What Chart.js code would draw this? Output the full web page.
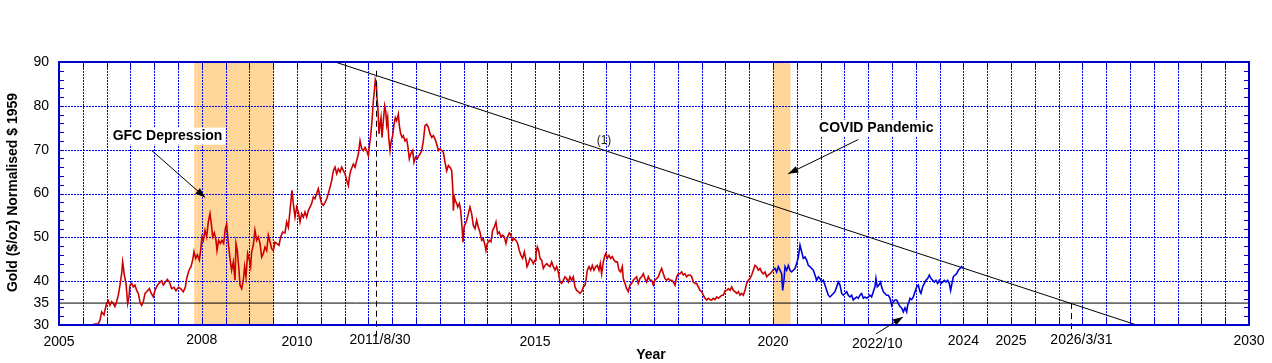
<!DOCTYPE html>
<html><head><meta charset="utf-8">
<script src="https://cdn.jsdelivr.net/npm/chart.js@4.4.1/dist/chart.umd.min.js"></script>
<style>html,body{margin:0;padding:0;background:#fff;}#wrap{width:1272px;height:363px;}</style>
</head><body><div id="wrap"><canvas id="c" width="1272" height="363"></canvas></div>
<script>
// ---- data ----
const redYears = [2005.686,2005.756,2005.826,2005.861,2005.896,2005.945,2005.966,2006.001,2006.036,2006.071,2006.106,2006.141,2006.176,2006.211,2006.246,2006.281,2006.316,2006.337,2006.351,2006.372,2006.407,2006.442,2006.470,2006.491,2006.526,2006.561,2006.596,2006.631,2006.666,2006.701,2006.736,2006.771,2006.807,2006.842,2006.898,2006.933,2006.982,2007.017,2007.066,2007.122,2007.157,2007.192,2007.248,2007.276,2007.318,2007.367,2007.416,2007.458,2007.507,2007.556,2007.612,2007.654,2007.682,2007.731,2007.773,2007.808,2007.836,2007.871,2007.906,2007.948,2007.976,2008.004,2008.032,2008.067,2008.102,2008.137,2008.172,2008.200,2008.228,2008.263,2008.298,2008.319,2008.354,2008.389,2008.424,2008.459,2008.494,2008.522,2008.550,2008.592,2008.627,2008.662,2008.697,2008.718,2008.746,2008.781,2008.802,2008.837,2008.872,2008.900,2008.928,2008.963,2008.991,2009.026,2009.047,2009.082,2009.117,2009.152,2009.188,2009.223,2009.258,2009.293,2009.328,2009.363,2009.398,2009.433,2009.468,2009.503,2009.538,2009.573,2009.622,
2009.657,2009.699,2009.748,2009.783,2009.818,2009.853,2009.895,2009.923,2009.958,2009.993,2010.028,2010.063,2010.098,2010.133,2010.168,2010.203,2010.238,2010.273,2010.308,2010.343,2010.378,2010.413,2010.448,2010.483,2010.518,2010.553,2010.589,2010.624,2010.659,2010.694,2010.729,2010.764,2010.799,2010.834,2010.869,2010.904,2010.939,2010.974,2011.009,2011.044,2011.079,2011.100,2011.128,2011.156,2011.184,2011.219,2011.254,2011.289,2011.324,2011.359,2011.394,2011.429,2011.464,2011.499,2011.520,2011.548,2011.576,2011.604,2011.625,2011.646,2011.667,2011.681,2011.702,2011.723,2011.744,2011.765,2011.786,2011.814,2011.842,2011.863,2011.884,2011.905,2011.926,2011.954,2011.975,2012.010,2012.038,2012.066,2012.094,2012.129,2012.150,2012.178,2012.206,2012.234,2012.269,2012.304,2012.332,2012.360,2012.388,2012.430,2012.458,2012.493,2012.528,2012.556,2012.584,2012.619,2012.654,2012.689,2012.724,2012.760,2012.795,2012.830,2012.865,2012.900,2012.935,2012.970,2013.005,2013.040,2013.075,2013.110,2013.145,2013.180,2013.215,2013.250,2013.271,2013.285,2013.306,2013.327,2013.355,2013.376,2013.411,2013.439,2013.467,2013.488,2013.509,2013.537,2013.565,2013.600,
2013.634,2013.669,2013.704,2013.739,2013.774,2013.809,2013.844,2013.879,2013.914,2013.949,2013.970,2013.998,2014.040,2014.075,2014.110,2014.145,2014.180,2014.215,2014.250,2014.285,2014.320,2014.355,2014.390,2014.425,2014.460,2014.495,2014.530,2014.565,2014.600,2014.635,2014.670,2014.706,2014.741,2014.776,2014.811,2014.832,2014.860,2014.895,2014.930,2014.965,2015.000,2015.021,2015.049,2015.077,2015.105,2015.140,2015.175,2015.210,2015.245,2015.280,2015.315,2015.350,2015.385,2015.420,2015.455,2015.490,2015.525,2015.560,2015.595,2015.630,2015.665,2015.700,2015.735,2015.770,2015.805,2015.840,2015.875,2015.910,2015.945,2015.980,2016.015,2016.050,2016.071,2016.099,2016.134,2016.169,2016.204,2016.239,2016.274,2016.309,2016.344,2016.372,2016.400,2016.435,2016.470,2016.491,2016.519,2016.554,2016.589,2016.624,2016.659,2016.694,2016.729,2016.764,2016.799,2016.834,2016.855,2016.890,2016.925,2016.960,2016.995,2017.030,2017.065,2017.100,2017.135,2017.170,2017.205,2017.240,2017.275,2017.310,2017.345,2017.380,2017.415,2017.450,2017.486,2017.521,2017.556,2017.591,
2017.626,2017.661,2017.696,2017.731,2017.766,2017.801,2017.836,2017.871,2017.906,2017.941,2017.976,2018.011,2018.046,2018.081,2018.116,2018.151,2018.186,2018.221,2018.256,2018.291,2018.326,2018.361,2018.396,2018.431,2018.466,2018.501,2018.536,2018.571,2018.606,2018.641,2018.676,2018.711,2018.746,2018.781,2018.817,2018.852,2018.887,2018.922,2018.957,2018.992,2019.027,2019.062,2019.097,2019.132,2019.167,2019.202,2019.237,2019.272,2019.307,2019.342,2019.377,2019.412,2019.447,2019.482,2019.517,2019.552,2019.587,2019.622,2019.657,2019.692,2019.727,2019.762,2019.797,2019.832,2019.867,2019.902,2019.937,2019.972,2019.993];
const redValues = [30.0,30.2,30.3,31.1,33.0,32.3,33.4,34.9,35.5,34.5,35.3,34.9,34.2,35.3,36.8,39.1,41.7,44.4,43.3,41.4,39.5,34.9,36.4,39.1,39.5,38.7,39.1,37.9,37.2,35.3,34.5,35.3,37.2,37.6,38.3,37.3,36.4,37.9,39.1,39.8,40.1,39.1,40.0,40.4,39.8,38.3,38.6,37.8,38.6,38.3,37.6,38.6,40.6,42.5,43.3,44.8,46.7,45.2,46.0,44.8,47.0,50.1,49.3,51.6,50.1,53.5,55.4,53.1,50.1,51.0,49.3,47.0,49.3,48.6,49.3,48.6,52.0,53.1,49.3,45.2,42.5,44.4,40.2,48.6,47.0,42.5,39.1,38.3,40.2,43.3,41.0,46.3,45.2,43.3,46.7,48.2,51.6,49.3,50.1,48.6,45.5,46.3,47.8,47.0,50.5,49.0,47.4,47.0,48.9,48.6,48.2,
50.1,51.2,51.0,53.5,52.3,56.1,60.7,57.7,54.6,56.9,55.8,53.5,55.4,54.6,55.8,54.6,56.1,56.9,57.7,59.2,58.8,60.0,61.1,59.2,57.7,57.3,58.0,58.8,60.0,61.4,63.0,65.2,66.0,64.5,65.6,64.9,66.0,65.2,64.5,63.0,61.8,63.7,65.2,66.0,66.7,66.0,67.5,69.0,72.0,70.2,69.8,70.5,69.8,68.6,70.9,73.2,76.6,81.1,83.4,86.0,85.3,81.9,78.9,73.6,75.8,77.3,72.8,76.6,80.0,78.9,75.8,77.3,72.8,69.8,71.7,73.2,75.8,77.3,76.6,78.1,75.5,73.6,72.8,73.2,72.0,72.4,70.5,67.9,69.0,69.8,67.1,68.3,67.9,68.6,69.0,69.8,72.0,75.5,75.8,75.1,73.6,72.8,73.2,72.4,71.3,69.8,70.2,69.8,69.4,67.1,65.2,66.4,66.0,65.2,61.4,56.1,59.2,58.4,57.7,56.9,57.7,56.1,52.3,48.9,52.3,53.1,53.9,55.4,
56.9,55.4,52.7,52.0,53.9,52.3,51.2,49.3,49.7,48.2,47.0,48.6,49.3,49.0,51.6,52.3,53.5,50.8,51.2,50.1,50.5,50.1,48.6,50.1,51.0,50.5,49.3,49.7,49.3,48.6,47.0,45.9,45.2,46.7,44.8,43.3,44.0,45.2,44.8,44.0,44.8,46.3,47.8,47.0,45.2,44.8,42.9,43.6,44.0,43.6,43.3,44.4,43.3,42.5,43.3,42.1,39.8,39.5,40.2,41.0,40.6,39.8,41.0,40.2,41.0,38.7,37.9,37.6,37.2,37.6,38.7,39.1,40.2,42.5,43.3,42.5,43.6,42.5,43.3,43.6,42.5,44.0,41.7,44.4,45.9,46.4,45.2,45.9,45.2,45.6,44.8,44.4,44.4,42.5,42.1,43.3,40.6,39.5,38.3,37.6,39.1,39.5,40.2,40.6,41.0,39.5,40.6,41.0,41.7,40.6,39.8,41.0,40.2,40.2,39.1,40.2,40.6,41.0,
42.1,42.9,41.7,40.6,40.2,40.6,40.2,40.2,39.8,39.1,41.0,41.7,41.7,42.1,41.4,41.7,41.0,41.4,41.4,41.0,39.8,39.5,39.5,38.7,37.9,37.6,36.8,36.1,35.7,36.1,35.8,35.7,36.1,35.8,36.4,36.1,36.4,36.8,36.8,37.8,37.9,38.3,37.9,38.7,37.9,37.6,37.2,37.6,36.8,37.2,36.8,37.9,39.5,40.2,40.6,41.4,42.5,43.6,43.3,42.5,42.9,42.1,41.7,42.1,41.0,41.4,41.7,42.1,42.5];
const blueYears = [2019.993,2020.042,2020.077,2020.112,2020.147,2020.182,2020.203,2020.231,2020.252,2020.287,2020.322,2020.357,2020.392,2020.427,2020.462,2020.497,2020.532,2020.567,2020.602,2020.637,2020.672,2020.707,2020.742,2020.777,2020.812,2020.847,2020.882,2020.917,2020.952,2020.987,2021.022,2021.057,2021.092,2021.127,2021.162,2021.197,2021.232,2021.267,2021.302,2021.337,2021.372,2021.408,2021.443,2021.478,2021.512,2021.547,2021.582,2021.617,2021.652,2021.687,2021.722,2021.757,2021.792,2021.827,2021.862,2021.897,2021.932,2021.967,2022.002,2022.037,2022.072,2022.107,2022.142,2022.163,2022.191,2022.226,2022.261,2022.282,2022.317,2022.352,2022.387,2022.423,2022.458,2022.493,2022.528,2022.563,2022.598,2022.633,2022.668,2022.703,2022.738,2022.773,2022.808,2022.829,2022.857,2022.878,2022.913,2022.948,2022.983,2023.018,2023.053,2023.088,2023.109,2023.144,2023.179,2023.214,2023.249,2023.284,2023.319,2023.354,2023.389,2023.424,2023.459,2023.494,2023.529,2023.564,2023.599,2023.634,2023.669,2023.704,2023.732,2023.760,2023.788,2023.823,2023.858,2023.893,2023.928,2023.963,2023.984];
const blueValues = [42.5,42.9,42.1,43.3,42.5,41.7,37.9,40.2,43.3,42.5,43.6,42.5,42.1,42.5,42.9,44.0,45.5,48.2,46.7,45.2,45.5,44.8,43.6,43.3,42.9,42.5,41.4,40.2,41.0,40.6,39.8,40.2,39.1,37.9,36.8,36.4,36.8,37.2,37.6,38.7,39.8,39.1,37.2,36.8,37.2,37.6,36.8,36.4,36.8,35.7,36.1,36.4,36.1,36.8,37.2,36.1,36.4,36.1,36.4,36.8,36.4,37.6,38.7,40.6,38.7,39.1,39.8,38.7,37.6,37.2,36.8,36.8,36.1,34.5,35.3,35.7,35.7,34.9,34.2,33.9,33.0,33.9,33.0,34.5,35.3,36.1,35.8,36.4,37.6,38.7,39.1,37.6,37.2,38.7,39.5,40.2,40.6,41.4,40.6,40.2,39.8,40.2,39.5,40.2,39.5,39.8,40.2,39.8,40.2,39.5,37.9,39.5,41.0,41.4,41.7,42.5,42.9,43.3,42.9];
const trendYears = [2010.80, 2027.64];
const trendValues = [90, 30];
const refLevel = 35;
const yTickValues = [30, 35, 40, 50, 60, 70, 80, 90];
const xTickValues = [2005, 2008, 2010, 2011.66, 2015, 2020, 2024, 2025, 2026.25, 2030];
const xTickLabels = ['2005', '2008', '2010', '2011/8/30', '2015', '2020', '2024', '2025', '2026/3/31', '2030'];
const bandStarts = [2007.84, 2020.0];
const bandEnds = [2009.5, 2020.37];
const peakDate = 2011.66, peakMark = 88;
const crossDate = 2026.25;

// ---- styles / layout ----
const FONT = "'Liberation Sans', Arial, sans-serif";
const GRID_BLUE = 'rgb(0,0,255)';
const xLabelDx = [0, 0, 0, 4, 0, 0, 0, 0, 11, 0];
const xLabelDy = [0, -2, 0, -2, 0, 0, -1, -1, -2, -1];
const gridYears = []; for (let i = 0; i <= 50; i++) gridYears.push(2005 + i * 0.5);
const gridValues = [40, 50, 60, 70, 80];

const bandsPlugin = {
  id: 'bands',
  beforeDatasetsDraw(chart) {
    const {ctx, chartArea: a, scales: {x, y}} = chart;
    ctx.save();
    ctx.fillStyle = '#ffd699';
    for (let i = 0; i < bandStarts.length; i++) {
      const x1 = x.getPixelForValue(bandStarts[i]), x2 = x.getPixelForValue(bandEnds[i]);
      ctx.fillRect(x1, a.top, x2 - x1, a.bottom - a.top);
    }
    // dotted blue grid over the bands
    ctx.strokeStyle = GRID_BLUE; ctx.lineWidth = 1; ctx.setLineDash([2, 1]);
    ctx.beginPath();
    for (const g of gridYears) {
      const gx = Math.round(x.getPixelForValue(g)) + 0.5;
      ctx.moveTo(gx, a.top); ctx.lineTo(gx, a.bottom);
    }
    for (const v of gridValues) {
      const gy = Math.round(y.getPixelForValue(v)) + 0.5;
      ctx.moveTo(a.left, gy); ctx.lineTo(a.right, gy);
    }
    ctx.stroke();
    ctx.restore();
  }
};

function arrow(ctx, x1, y1, x2, y2) {
  ctx.beginPath(); ctx.moveTo(x1, y1); ctx.lineTo(x2, y2); ctx.stroke();
  const ang = Math.atan2(y2 - y1, x2 - x1), L = 10, W = 3.5;
  ctx.beginPath();
  ctx.moveTo(x2, y2);
  ctx.lineTo(x2 - L * Math.cos(ang) + W * Math.sin(ang), y2 - L * Math.sin(ang) - W * Math.cos(ang));
  ctx.lineTo(x2 - L * Math.cos(ang) - W * Math.sin(ang), y2 - L * Math.sin(ang) + W * Math.cos(ang));
  ctx.closePath(); ctx.fill();
}

const overlayPlugin = {
  id: 'overlay',
  afterDraw(chart) {
    const {ctx, chartArea: a, scales: {x, y}} = chart;
    const px = v => x.getPixelForValue(v), py = v => y.getPixelForValue(v);
    ctx.save();
    // dashed verticals
    ctx.strokeStyle = '#000'; ctx.lineWidth = 1; ctx.setLineDash([6, 4]);
    let xx = Math.round(px(peakDate)) + 0.5;
    ctx.beginPath(); ctx.moveTo(xx, py(peakMark)); ctx.lineTo(xx, a.bottom + 12); ctx.stroke();
    xx = Math.round(px(crossDate)) + 0.5;
    ctx.beginPath(); ctx.moveTo(xx, py(refLevel)); ctx.lineTo(xx, a.bottom + 10); ctx.stroke();
    ctx.setLineDash([]);
    // frame
    ctx.strokeStyle = '#0000cc'; ctx.lineWidth = 2;
    ctx.strokeRect(a.left, a.top, a.right - a.left, a.bottom - a.top);
    // minor ticks
    ctx.lineWidth = 1; ctx.strokeStyle = '#0000cc';
    ctx.beginPath();
    for (let v = 30; v <= 90; v += 2) {
      const yy = Math.round(py(v)) + 0.5;
      ctx.moveTo(a.left, yy); ctx.lineTo(a.left + 5, yy);
      ctx.moveTo(a.right - 5, yy); ctx.lineTo(a.right, yy);
    }
    for (const g of gridYears) {
      const gx = Math.round(px(g)) + 0.5;
      ctx.moveTo(gx, a.bottom); ctx.lineTo(gx, a.bottom - 6);
      ctx.moveTo(gx, a.top); ctx.lineTo(gx, a.top + 6);
    }
    ctx.stroke();
    // annotations
    ctx.font = 'bold 14px ' + FONT;
    ctx.textAlign = 'center'; ctx.textBaseline = 'middle';
    const boxText = (t, cx, cy) => {
      const w = ctx.measureText(t).width + 6;
      ctx.fillStyle = '#fff'; ctx.fillRect(cx - w / 2, cy - 8, w, 17);
      ctx.fillStyle = '#000'; ctx.fillText(t, cx, cy + 0.5);
    };
    boxText('GFC Depression', px(2007.28), py(73.2));
    boxText('COVID Pandemic', px(2022.17), py(75.0));
    ctx.strokeStyle = '#000'; ctx.fillStyle = '#000'; ctx.lineWidth = 1;
    arrow(ctx, px(2006.95), py(69.8), px(2008.07), py(59.1));
    arrow(ctx, px(2021.79), py(72.3), px(2020.32), py(64.5));
    arrow(ctx, px(2022.16), py(27.95), px(2022.73), py(31.8));
    ctx.font = '12px ' + FONT; ctx.fillStyle = '#222';
    ctx.fillText('(1)', px(2016.45), py(72.1));
    // x labels
    ctx.font = '14px ' + FONT; ctx.fillStyle = '#000';
    xTickValues.forEach((v, i) => {
      ctx.fillText(xTickLabels[i], px(v) + xLabelDx[i], a.bottom + 17 + xLabelDy[i]);
    });
    ctx.fillText('2022/10', px(2022.19), a.bottom + 19);
    // titles
    ctx.font = 'bold 14px ' + FONT;
    ctx.fillText('Year', (a.left + a.right) / 2 - 3, a.bottom + 30);
    ctx.translate(13, (a.top + a.bottom) / 2 - 1);
    ctx.rotate(-Math.PI / 2);
    ctx.fillText('Gold ($/oz) Normalised $ 1959', 0, 0);
    ctx.restore();
  }
};

const pts = (xs, ys) => xs.map((v, i) => ({x: v, y: ys[i]}));

new Chart(document.getElementById('c'), {
  type: 'line',
  data: {
    datasets: [
      {label: 'Gold', data: pts(redYears, redValues), borderColor: '#cc0000', borderWidth: 1.6, pointRadius: 0, tension: 0},
      {label: 'Gold 2020-', data: pts(blueYears, blueValues), borderColor: '#0000dd', borderWidth: 1.6, pointRadius: 0, tension: 0},
      {label: '35', data: pts([2005, 2030], [refLevel, refLevel]), borderColor: '#000', borderWidth: 1, pointRadius: 0},
      {label: '(1)', data: pts(trendYears, trendValues), borderColor: '#000', borderWidth: 1, pointRadius: 0}
    ]
  },
  options: {
    responsive: false, animation: false, devicePixelRatio: 1,
    layout: {padding: {top: 62, right: 23, left: 0, bottom: 0}},
    plugins: {legend: {display: false}, tooltip: {enabled: false}},
    scales: {
      x: {
        type: 'linear', min: 2005, max: 2030,
        afterBuildTicks: s => { s.ticks = gridYears.map(v => ({value: v})); },
        afterFit: s => { s.height = 38; },
        ticks: {display: false},
        grid: {display: false, drawTicks: false},
        border: {display: false}
      },
      y: {
        type: 'linear', min: 30, max: 90,
        afterBuildTicks: s => { s.ticks = yTickValues.map(v => ({value: v})); },
        afterFit: s => { s.width = 59; },
        ticks: {font: {family: FONT, size: 14}, color: '#000', padding: 10, autoSkip: false, callback: v => String(v)},
        grid: {display: false, drawTicks: false},
        border: {display: false}
      }
    }
  },
  plugins: [bandsPlugin, overlayPlugin]
});
</script></body></html>
